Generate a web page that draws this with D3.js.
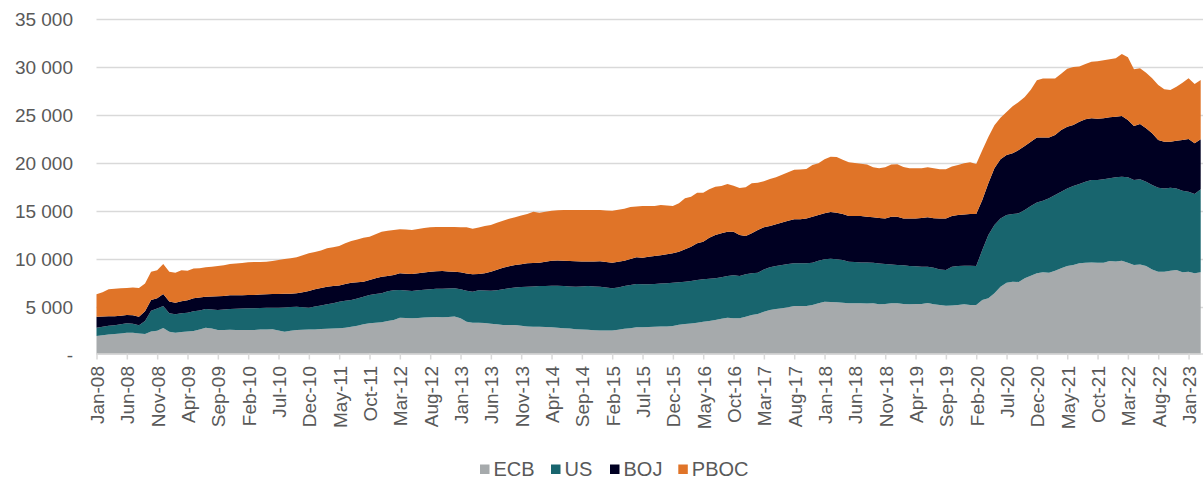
<!DOCTYPE html>
<html>
<head>
<meta charset="utf-8">
<script src="https://cdn.jsdelivr.net/npm/d3@7"></script>
<style>
  html, body { margin: 0; padding: 0; background: #ffffff; }
  svg { display: block; font-family: "Liberation Sans", Arial, sans-serif; }
</style>
</head>
<body>
<svg id="chart" width="1203" height="479"></svg>
<script>
// ---- Data (USD bn, monthly Jan-08 .. Mar-23) ----
const categories = d3.timeMonth.range(new Date(2008, 0, 1), new Date(2023, 3, 1)).map(d3.timeFormat("%b-%y"));

const tickLabels = ["Jan-08","Jun-08","Nov-08","Apr-09","Sep-09","Feb-10","Jul-10","Dec-10","May-11","Oct-11",
  "Mar-12","Aug-12","Jan-13","Jun-13","Nov-13","Apr-14","Sep-14","Feb-15","Jul-15","Dec-15",
  "May-16","Oct-16","Mar-17","Aug-17","Jan-18","Jun-18","Nov-18","Apr-19","Sep-19","Feb-20",
  "Jul-20","Dec-20","May-21","Oct-21","Mar-22","Aug-22","Jan-23"];

const yTicks = [0, 5000, 10000, 15000, 20000, 25000, 30000, 35000];

const seriesNames = ["ECB", "US", "BOJ", "PBOC"];

const ecb = [
  1930,2000,2080,2140,2200,2280,2280,2200,2140,2400,
  2490,2770,2380,2280,2350,2400,2450,2600,2800,2700,
  2560,2560,2580,2560,2560,2560,2550,2600,2620,2630,
  2500,2380,2480,2560,2580,2600,2620,2660,2680,2700,
  2730,2800,2900,3000,3150,3270,3300,3370,3500,3610,
  3840,3800,3770,3800,3850,3880,3900,3880,3920,3960,
  3770,3420,3300,3300,3280,3200,3150,3090,3080,3070,
  3000,2920,2900,2900,2880,2850,2800,2750,2700,2640,
  2600,2570,2540,2500,2500,2500,2580,2680,2750,2850,
  2830,2870,2900,2930,2930,2970,3100,3170,3240,3300,
  3420,3500,3600,3730,3840,3770,3770,3940,4120,4220,
  4470,4650,4750,4820,4920,5060,5060,5060,5160,5340,
  5510,5470,5440,5400,5340,5340,5340,5330,5340,5230,
  5270,5340,5340,5270,5230,5270,5270,5370,5250,5160,
  5090,5120,5160,5230,5160,5160,5690,5860,6380,7080,
  7490,7600,7570,7950,8220,8470,8570,8540,8750,8990,
  9230,9340,9510,9580,9610,9580,9580,9750,9690,9790,
  9580,9340,9400,9230,8880,8640,8640,8750,8810,8570,
  8640,8470,8570
];

const us = [
  870,900,920,910,950,970,920,850,1360,2170,
  2310,2290,1920,1920,1950,1960,2050,2000,1950,2000,
  2090,2140,2170,2220,2240,2260,2280,2250,2250,2250,
  2390,2520,2470,2430,2350,2290,2380,2440,2550,2650,
  2780,2800,2790,2850,2880,2930,3000,3010,3100,3090,
  2890,2880,2850,2900,2900,2920,2950,2990,2960,2940,
  3030,3230,3250,3400,3400,3460,3550,3710,3820,3930,
  4030,4150,4200,4240,4270,4320,4360,4390,4400,4430,
  4500,4570,4560,4570,4500,4400,4420,4460,4500,4500,
  4490,4470,4460,4470,4490,4520,4450,4430,4440,4470,
  4420,4400,4350,4320,4350,4490,4420,4420,4350,4320,
  4410,4440,4480,4520,4520,4450,4450,4450,4420,4450,
  4420,4530,4490,4460,4340,4310,4270,4270,4240,4270,
  4170,4060,4000,4030,4000,3930,3890,3790,3810,3720,
  3720,4040,4070,4030,4090,4070,5210,6610,7130,7120,
  7060,7060,7160,7120,7270,7400,7480,7750,7890,8000,
  8100,8240,8280,8450,8590,8620,8690,8630,8790,8760,
  8900,8860,8870,8800,8800,8760,8690,8650,8520,8520,
  8350,8270,8660
];

const boj = [
  1140,1070,1000,950,900,870,900,900,1000,1120,
  1060,1250,1220,1210,1250,1290,1360,1350,1280,1350,
  1430,1400,1420,1400,1390,1380,1390,1400,1410,1420,
  1420,1430,1400,1390,1570,1730,1800,1850,1840,1800,
  1690,1750,1800,1700,1570,1570,1650,1740,1600,1590,
  1740,1740,1780,1770,1800,1840,1830,1830,1780,1740,
  1770,1800,1810,1700,1790,1980,2150,2260,2300,2340,
  2390,2440,2450,2440,2530,2620,2640,2650,2660,2650,
  2600,2550,2600,2650,2650,2680,2680,2650,2700,2790,
  2780,2860,2920,2960,3030,3070,3180,3370,3570,3830,
  3930,4290,4520,4590,4620,4550,4280,4000,4170,4450,
  4390,4320,4350,4420,4520,4590,4590,4690,4800,4760,
  4800,4870,4870,4800,4770,4800,4840,4780,4730,4750,
  4760,4980,5040,4900,4970,5000,5090,5150,5150,5320,
  5390,5290,5320,5340,5410,5430,5220,5390,5910,6170,
  6260,6330,6600,6680,6710,6780,6600,6360,6260,6430,
  6440,6360,6500,6500,6440,6400,6370,6360,6330,6330,
  5980,5640,5770,5570,5390,4980,4870,4800,4970,5290,
  5490,5290,5220
];

const pboc = [
  2340,2530,2800,2850,2850,2820,2900,3000,2900,2950,
  2940,3130,3120,3120,3250,3080,3100,3050,3070,3100,
  3150,3200,3270,3320,3360,3420,3420,3410,3400,3460,
  3550,3620,3700,3760,3850,3940,3900,3890,4010,4050,
  4120,4250,4350,4450,4590,4520,4600,4690,4700,4710,
  4590,4610,4600,4630,4650,4630,4620,4600,4640,4660,
  4700,4820,4770,4850,4930,4860,4900,4900,4950,4970,
  5080,5150,5350,5220,5220,5210,5250,5280,5310,5350,
  5370,5380,5370,5350,5380,5420,5420,5410,5450,5310,
  5390,5290,5210,5240,5100,4930,5040,5320,5200,5280,
  5110,5040,5030,4930,4980,4790,4890,5100,5220,4940,
  4810,4890,4920,4990,5060,5170,5200,5150,5390,5400,
  5630,5770,5800,5660,5600,5530,5460,5430,5220,5170,
  5330,5430,5460,5360,5220,5220,5170,5220,5210,5120,
  5120,5150,5220,5350,5390,5220,5180,4830,4490,4340,
  4490,4900,5010,5120,5430,5950,6130,6130,5880,5880,
  6050,6050,5760,5770,5900,6000,6060,6060,6090,6470,
  6540,5910,5810,5800,5740,5730,5460,5390,5640,5970,
  6330,6190,6190
];

const colors = ["#A6AAAC", "#18656E", "#000022", "#E07428"];

// ---- Layout ----
const W = 1203, H = 479;
const plotLeft = 96.5, plotRight = 1200.7, plotTop = 19, plotBottom = 354.5;

const svg = d3.select("#chart");

const rows = categories.map((c, i) => ({ cat: c, ECB: ecb[i], US: us[i], BOJ: boj[i], PBOC: pboc[i] }));

const x = d3.scalePoint().domain(categories).range([plotLeft, plotRight]);
const y = d3.scaleLinear().domain([0, 35000]).range([plotBottom, plotTop]);

// gridlines
svg.append("g")
  .selectAll("line")
  .data(yTicks.filter(v => v > 0))
  .join("line")
  .attr("x1", plotLeft).attr("x2", W)
  .attr("y1", d => Math.round(y(d)) + 0.5).attr("y2", d => Math.round(y(d)) + 0.5)
  .attr("stroke", "#d9d9d9").attr("stroke-width", 1.5);

// stacked areas
const stack = d3.stack().keys(seriesNames);
const layers = stack(rows);
const area = d3.area()
  .x(d => x(d.data.cat))
  .y0(d => y(d[0]))
  .y1(d => y(d[1]));

svg.append("g")
  .selectAll("path")
  .data(layers)
  .join("path")
  .attr("d", area)
  .attr("fill", (d, i) => colors[i]);

// x axis
const xAxis = d3.axisBottom(x)
  .tickValues(tickLabels)
  .tickSize(6)
  .tickSizeOuter(0)
  .tickFormat(d => d);

const gx = svg.append("g")
  .attr("transform", `translate(0,${plotBottom - 1})`)
  .call(xAxis);
gx.select(".domain").attr("stroke", "#d9d9d9").attr("stroke-width", 1.5)
  .attr("d", `M${plotLeft},0.5H${W}`);
gx.selectAll(".tick line").attr("stroke", "#d9d9d9").attr("stroke-width", 1.5);
gx.selectAll(".tick text")
  .attr("fill", "#595959")
  .attr("font-size", "19px")
  .attr("font-family", "'Liberation Sans', Arial, sans-serif")
  .attr("text-anchor", "end")
  .attr("transform", "translate(0,12.5) rotate(-90)")
  .attr("x", 0).attr("y", 0).attr("dy", "0.36em");

// y axis
const fmt = v => v === 0 ? "-" : d3.format(",")(v).replace(/,/g, " ");
const yAxis = d3.axisLeft(y).tickValues(yTicks).tickSize(0).tickFormat(fmt);
const gy = svg.append("g")
  .attr("transform", `translate(${73},0)`)
  .call(yAxis);
gy.select(".domain").remove();
gy.selectAll(".tick text")
  .attr("fill", "#595959")
  .attr("font-size", "19px")
  .attr("font-family", "'Liberation Sans', Arial, sans-serif")
  .attr("x", 0).attr("dy", "0.36em")
  .attr("text-anchor", "end");

// legend
const legendX = [480, 551, 610, 678.3];
const lg = svg.append("g").attr("class", "legend");
seriesNames.forEach((name, i) => {
  const g = lg.append("g").attr("transform", `translate(${legendX[i]},0)`);
  g.append("rect").attr("x", 0).attr("y", 464.5).attr("width", 9.5).attr("height", 9.5).attr("fill", colors[i]);
  g.append("text").attr("x", 13.5).attr("y", 476)
    .attr("font-size", "20px").attr("fill", "#595959")
    .text(name);
});
</script>
</body>
</html>
